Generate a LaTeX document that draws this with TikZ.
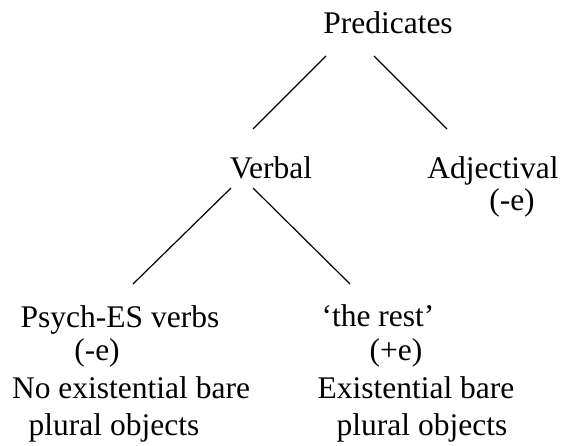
\documentclass[tikz,border=0pt]{standalone}
\usepackage{fontspec}
\setmainfont{Liberation Serif}
\begin{document}
\begin{tikzpicture}[x=1pt,y=-1pt,font=\fontsize{31.5}{36}\selectfont,
  every node/.style={anchor=base,inner sep=0pt},
  branch/.style={line width=1.2pt}]
\useasboundingbox (0,0) rectangle (561,445);

\node (pred)   at (388,33)  {Predicates};
\node (verbal) at (271,178) {Verbal};
\node (adj)    at (493,178) {Adjectival};
\node (adje)   at (512,210) {(-e)};

\node (psych)  at (120,327) {Psych-ES verbs};
\node (psyche) at (97,360)  {(-e)};
\node (noex)   at (131,398) {No existential bare};
\node (plobjl) at (114,435) {plural objects};

\node (rest)   at (378,326) {‘the rest’};
\node (reste)  at (396,360) {(+e)};
\node (exist)  at (416,398) {Existential bare};
\node (plobjr) at (422,435) {plural objects};

% branch ends
\coordinate (pred-l)   at ([shift={(-62,23)}]pred.base);
\coordinate (pred-r)   at ([shift={(-14,23)}]pred.base);
\coordinate (verbal-t) at ([shift={(-18,-49)}]verbal.base);
\coordinate (adj-t)    at ([shift={(-46,-49)}]adj.base);
\coordinate (verbal-l) at ([shift={(-40,10)}]verbal.base);
\coordinate (verbal-r) at ([shift={(-18,10)}]verbal.base);
\coordinate (psych-t)  at ([shift={(13,-43)}]psych.base);
\coordinate (rest-t)   at ([shift={(-28,-42)}]rest.base);

\draw[branch] (pred-l) -- (verbal-t);
\draw[branch] (pred-r) -- (adj-t);
\draw[branch] (verbal-l) -- (psych-t);
\draw[branch] (verbal-r) -- (rest-t);

\end{tikzpicture}
\end{document}
